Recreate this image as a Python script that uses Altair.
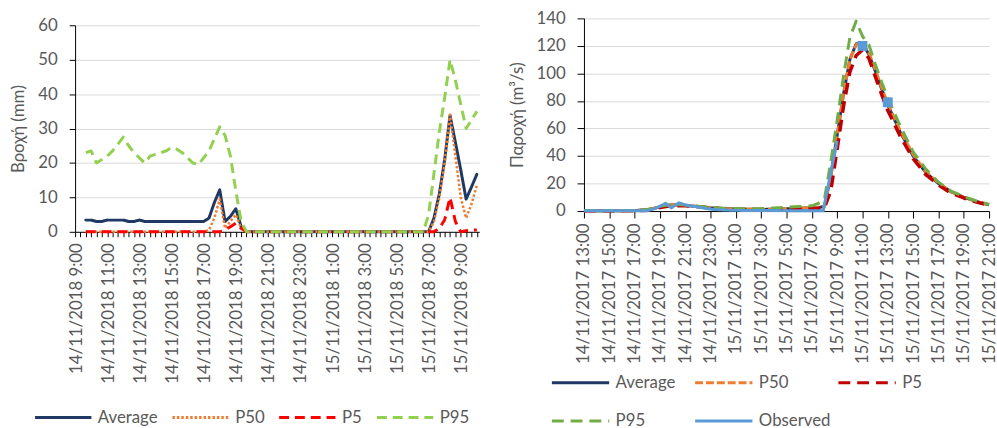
import json
import altair as alt
import pandas as pd

FONT = "Lato"
TEXT = "#595959"
GRID = "#D9D9D9"
FS = 17

# ---------------- Left chart: rainfall (20-minute categories) ----------------
rain_times = pd.date_range("2018-11-14 09:00", periods=76, freq="20min")
rain_categories = [f"{t:%d/%m/%Y} {t.hour}:{t:%M}" for t in rain_times]
rain_index = list(range(2, 76))  # data start at 9:40

rain_average = [3.4, 3.4, 3.0, 3.0, 3.4, 3.4, 3.4, 3.4,
                3.0, 3.0, 3.4, 3.0, 3.0, 3.0, 3.0, 3.0, 3.0, 3.0, 3.0, 3.0, 3.0, 3.0, 3.0,
                4.0, 8.5, 12.2, 3.0, 4.5, 6.7, 1.5,
                0, 0, 0, 0, 0, 0, 0, 0, 0, 0, 0, 0, 0, 0, 0, 0, 0, 0,
                0, 0, 0, 0, 0, 0, 0, 0, 0, 0, 0, 0, 0, 0, 0, 0, 0,
                4.0, 11.0, 21.0, 33.8, 26.0, 18.0, 9.5, 13.0, 16.7]
rain_p50 = [0, 0, 0, 0, 0, 0, 0, 0, 0, 0, 0, 0, 0, 0, 0, 0, 0, 0, 0, 0, 0, 0, 0,
            0.5, 4.0, 9.5, 1.0, 3.0, 5.0, 1.0,
            0, 0, 0, 0, 0, 0, 0, 0, 0, 0, 0, 0, 0, 0, 0, 0, 0, 0,
            0, 0, 0, 0, 0, 0, 0, 0, 0, 0, 0, 0, 0, 0, 0, 0, 0,
            3.0, 10.0, 20.0, 34.0, 22.0, 10.0, 4.0, 8.0, 13.5]
rain_p5 = [0, 0, 0, 0, 0, 0, 0, 0, 0, 0, 0, 0, 0, 0, 0, 0, 0, 0, 0, 0, 0, 0, 0, 0, 0, 0,
           0.5, 1.5, 2.5, 1.0,
           0, 0, 0, 0, 0, 0, 0, 0, 0, 0, 0, 0, 0, 0, 0, 0, 0, 0,
           0, 0, 0, 0, 0, 0, 0, 0, 0, 0, 0, 0, 0, 0, 0, 0, 0, 0,
           1.0, 3.5, 10.0, 3.0, 0.0, 0.3, 0.5, 0.5]
rain_p95 = [23.0, 23.5, 20.0, 21.0, 22.0, 23.5, 25.5, 27.5, 25.0, 23.0, 21.5, 20.0,
            22.0, 22.5, 23.0, 23.5, 24.5, 24.0, 23.0, 21.5, 20.0, 19.5, 21.5, 23.5,
            27.0, 30.5, 28.0, 22.0, 12.0, 3.0,
            0, 0, 0, 0, 0, 0, 0, 0, 0, 0, 0, 0, 0, 0, 0, 0, 0,
            0, 0, 0, 0, 0, 0, 0, 0, 0, 0, 0, 0, 0, 0, 0, 0, 0,
            5.0, 17.0, 29.0, 39.0, 50.0, 44.0, 37.0, 30.0, 32.5, 35.0]

rain_names = ["Average", "P50", "P5", "P95"]
rain_colors = ["#1F3864", "#ED7D31", "#FF0000", "#92D050"]
rain_dashes = [[1, 0], [2.5, 2], [10, 6], [10, 6]]
rain_widths = [3, 2.5, 3, 3]
rain_caps = ["round", "butt", "butt", "butt"]
rain_ticks = [0, 10, 20, 30, 40, 50, 60]

# ---------------- Right chart: discharge (hours after 14/11/2017 13:00) ----------------
flow_start = pd.Timestamp("2017-11-14 13:00")
flow_label_times = pd.date_range(flow_start, periods=17, freq="2h")
flow_labels = [f"{t:%d/%m/%Y} {t.hour}:{t:%M}" for t in flow_label_times]

flow_hours = [0, 1, 2, 3, 4, 5, 6, 7, 8, 9, 10, 11, 12, 13, 14, 15, 16, 17, 18,
              18.5, 19, 19.5, 20, 20.5, 21, 21.5, 22, 22.5, 23, 23.5, 24,
              25, 26, 27, 28, 29, 30, 31, 32]
flow_average = [0.3, 0.3, 0.3, 0.3, 0.4, 0.8, 3.0, 4.5, 4.0, 3.3, 2.3, 1.8, 1.5, 1.3, 1.2, 1.3, 1.6, 2.0, 2.3,
                2.5, 3.5, 26, 55, 85, 110, 121.5, 121.5, 114, 102, 89, 77,
                57, 40, 28, 20, 14, 10, 7, 4.5]
flow_p50 = [0.3, 0.3, 0.3, 0.3, 0.4, 0.9, 3.2, 4.6, 4.0, 3.3, 2.3, 1.8, 1.5, 1.3, 1.3, 1.4, 1.7, 2.2, 2.5,
            2.8, 3.6, 25, 54, 85, 110, 121, 122, 115, 103, 90, 78,
            58, 41, 28.5, 20.5, 14, 10, 7, 4.5]
flow_p5 = [0.2, 0.2, 0.2, 0.2, 0.3, 0.6, 2.5, 4.0, 3.8, 3.2, 2.2, 1.7, 1.4, 1.2, 1.1, 1.1, 1.3, 1.6, 1.8,
           2.0, 2.5, 15, 45, 76, 101, 113, 117, 111, 98, 85, 73,
           54, 38, 26.5, 19, 13, 9.5, 6.5, 4.3]
flow_p95 = [0.4, 0.4, 0.4, 0.4, 0.5, 1.1, 3.4, 5.0, 4.3, 3.5, 2.6, 2.1, 1.8, 1.7, 1.8, 2.2, 2.8, 3.3, 3.8,
            5.5, 9, 36, 66, 98, 126, 138, 127, 121, 107, 94, 82,
            61.5, 43, 30.5, 21, 14.5, 10.5, 7.3, 4.8]
obs_hours = [0, 4, 5, 5.5, 6, 6.45, 6.9, 7.5, 8, 9, 10, 11, 12, 14, 16, 18, 18.9, 20,
             21, 22, 23, 24, 25]
obs_values = [0.2, 0.2, 0.3, 1.5, 3.5, 5.7, 2.3, 6.0, 4.5, 2.9, 1.3, 0.8, 0.5, 0.4, 0.3, 0.3, 0.3, 51,
              None, 120, None, 79, None]

flow_names = ["Average", "P50", "P5", "P95", "Observed"]
flow_colors = ["#1F3864", "#ED7D31", "#C00000", "#70AD47", "#5B9BD5"]
flow_dashes = [[1, 0], [8, 3], [12, 7], [12, 7], [1, 0]]
flow_widths = [3, 3, 3.5, 3, 3]
flow_ticks = [0, 20, 40, 60, 80, 100, 120, 140]


def long_frame(xs, named_series):
    rows = []
    for name, vals in named_series:
        for x, v in zip(xs, vals):
            if v is not None:
                rows.append({"x": x, "value": v, "series": name})
    return pd.DataFrame(rows)


rain_df = long_frame(rain_index, list(zip(rain_names, [rain_average, rain_p50, rain_p5, rain_p95])))

flow_df = long_frame(flow_hours, list(zip(flow_names[:4], [flow_average, flow_p50, flow_p5, flow_p95])))
# observed: connected runs become a line, isolated values become square markers
obs_line_rows, obs_point_rows = [], []
for k, (h, v) in enumerate(zip(obs_hours, obs_values)):
    if v is None:
        continue
    prev_ok = k > 0 and obs_values[k - 1] is not None
    next_ok = k + 1 < len(obs_values) and obs_values[k + 1] is not None
    row = {"x": h, "value": v, "series": "Observed"}
    (obs_line_rows if (prev_ok or next_ok) else obs_point_rows).append(row)
flow_df = pd.concat([flow_df, pd.DataFrame(obs_line_rows)], ignore_index=True)
obs_points_df = pd.DataFrame(obs_point_rows)

axis_common = dict(labelFont=FONT, labelFontSize=FS, labelColor=TEXT,
                   domainColor="#000000", tickColor="#000000", domainWidth=1, tickWidth=1)

# ---------------- build left ----------------
rain_label_expr = ("datum.value % 6 == 0 ? " + json.dumps(rain_categories) + "[datum.value] : ''")
rain_x = alt.X("x:Q", scale=alt.Scale(domain=[0, 75.45], nice=False, zero=False),
               axis=alt.Axis(values=list(range(76)), labelExpr=rain_label_expr, labelAngle=270,
                             title=None, grid=False, tickSize=5, labelPadding=6, labelOffset=1,
                             labelOverlap=False, labelFlush=False, **axis_common))
rain_y = alt.Y("value:Q", scale=alt.Scale(domain=[0, 60], nice=False),
               axis=alt.Axis(values=rain_ticks, title="Βροχή (mm)", titleFont=FONT, titleFontSize=FS,
                             titleColor=TEXT, titleFontWeight="normal", titlePadding=10,
                             labelPadding=12, tickSize=6, grid=True, gridColor=GRID, **axis_common))
rain_legend = alt.Legend(title=None, orient="none", legendX=-42, legendY=374, direction="horizontal",
                         columns=4, symbolType="stroke", symbolSize=3249, symbolStrokeWidth=3,
                         labelFont=FONT, labelFontSize=FS, labelColor=TEXT, labelOffset=5,
                         columnPadding=8, gridAlign="each", labelLimit=0)
rain_color = alt.Color("series:N", scale=alt.Scale(domain=rain_names, range=rain_colors), legend=rain_legend)
rain_dash = alt.StrokeDash("series:N", scale=alt.Scale(domain=rain_names, range=rain_dashes), legend=rain_legend)

rain_layers = []
for n, w, c in zip(rain_names, rain_widths, rain_caps):
    rain_layers.append(
        alt.Chart(rain_df).transform_filter(alt.datum.series == n)
        .mark_line(strokeWidth=w, strokeCap=c, strokeJoin="round")
        .encode(x=rain_x, y=rain_y, color=rain_color, strokeDash=rain_dash)
    )
left_plot = alt.layer(*rain_layers).properties(width=409, height=209)

# invisible 1x1 spacer that lowers the left panel relative to the right one
spacer = alt.Chart(pd.DataFrame({"s": [0]})).mark_rect(opacity=0).encode(
    x=alt.value(0), x2=alt.value(1), y=alt.value(0), y2=alt.value(1)
).properties(width=409, height=1)
left = alt.vconcat(spacer, left_plot, spacing=-3)

# ---------------- build right ----------------
flow_label_expr = json.dumps(flow_labels) + "[datum.value / 2]"
flow_x = alt.X("x:Q", scale=alt.Scale(domain=[0, 32], nice=False, zero=False),
               axis=alt.Axis(values=list(range(0, 33, 2)), labelExpr=flow_label_expr, labelAngle=270,
                             title=None, grid=False, tickSize=7, labelPadding=5,
                             labelOverlap=False, labelFlush=False, **axis_common))
flow_y = alt.Y("value:Q", scale=alt.Scale(domain=[0, 140], nice=False),
               axis=alt.Axis(values=flow_ticks, title="Παροχή (m³/s)", titleFont=FONT, titleFontSize=FS,
                             titleColor=TEXT, titleFontWeight="normal", titlePadding=10,
                             labelPadding=12, tickSize=7, grid=True, gridColor=GRID, **axis_common))
flow_legend = alt.Legend(title=None, orient="none", legendX=-34, legendY=338, direction="horizontal",
                         columns=3, symbolType="stroke", symbolSize=3364, symbolStrokeWidth=3,
                         labelFont=FONT, labelFontSize=FS, labelColor=TEXT, labelOffset=5,
                         columnPadding=1, rowPadding=-23, gridAlign="all", labelLimit=0)
flow_color = alt.Color("series:N", scale=alt.Scale(domain=flow_names, range=flow_colors), legend=flow_legend)
flow_dash = alt.StrokeDash("series:N", scale=alt.Scale(domain=flow_names, range=flow_dashes), legend=flow_legend)

flow_layers = []
for n, w in zip(flow_names, flow_widths):
    flow_layers.append(
        alt.Chart(flow_df).transform_filter(alt.datum.series == n)
        .mark_line(strokeWidth=w, strokeJoin="round")
        .encode(x=flow_x, y=flow_y, color=flow_color, strokeDash=flow_dash)
    )
flow_layers.append(
    alt.Chart(obs_points_df).mark_square(size=100, color="#5B9BD5", opacity=1)
    .encode(x=flow_x, y=flow_y)
)
right = alt.layer(*flow_layers).properties(width=410, height=195)

chart = (
    alt.hconcat(left, right, spacing=22)
    .resolve_scale(color="independent", strokeDash="independent")
    .resolve_legend(color="independent", strokeDash="independent")
    .properties(padding={"left": 10, "top": 7, "right": 0, "bottom": 0})
    .configure(font=FONT)
    .configure_view(stroke=None)
)

chart.save("out.html", embed_options={"renderer": "svg", "actions": False})
